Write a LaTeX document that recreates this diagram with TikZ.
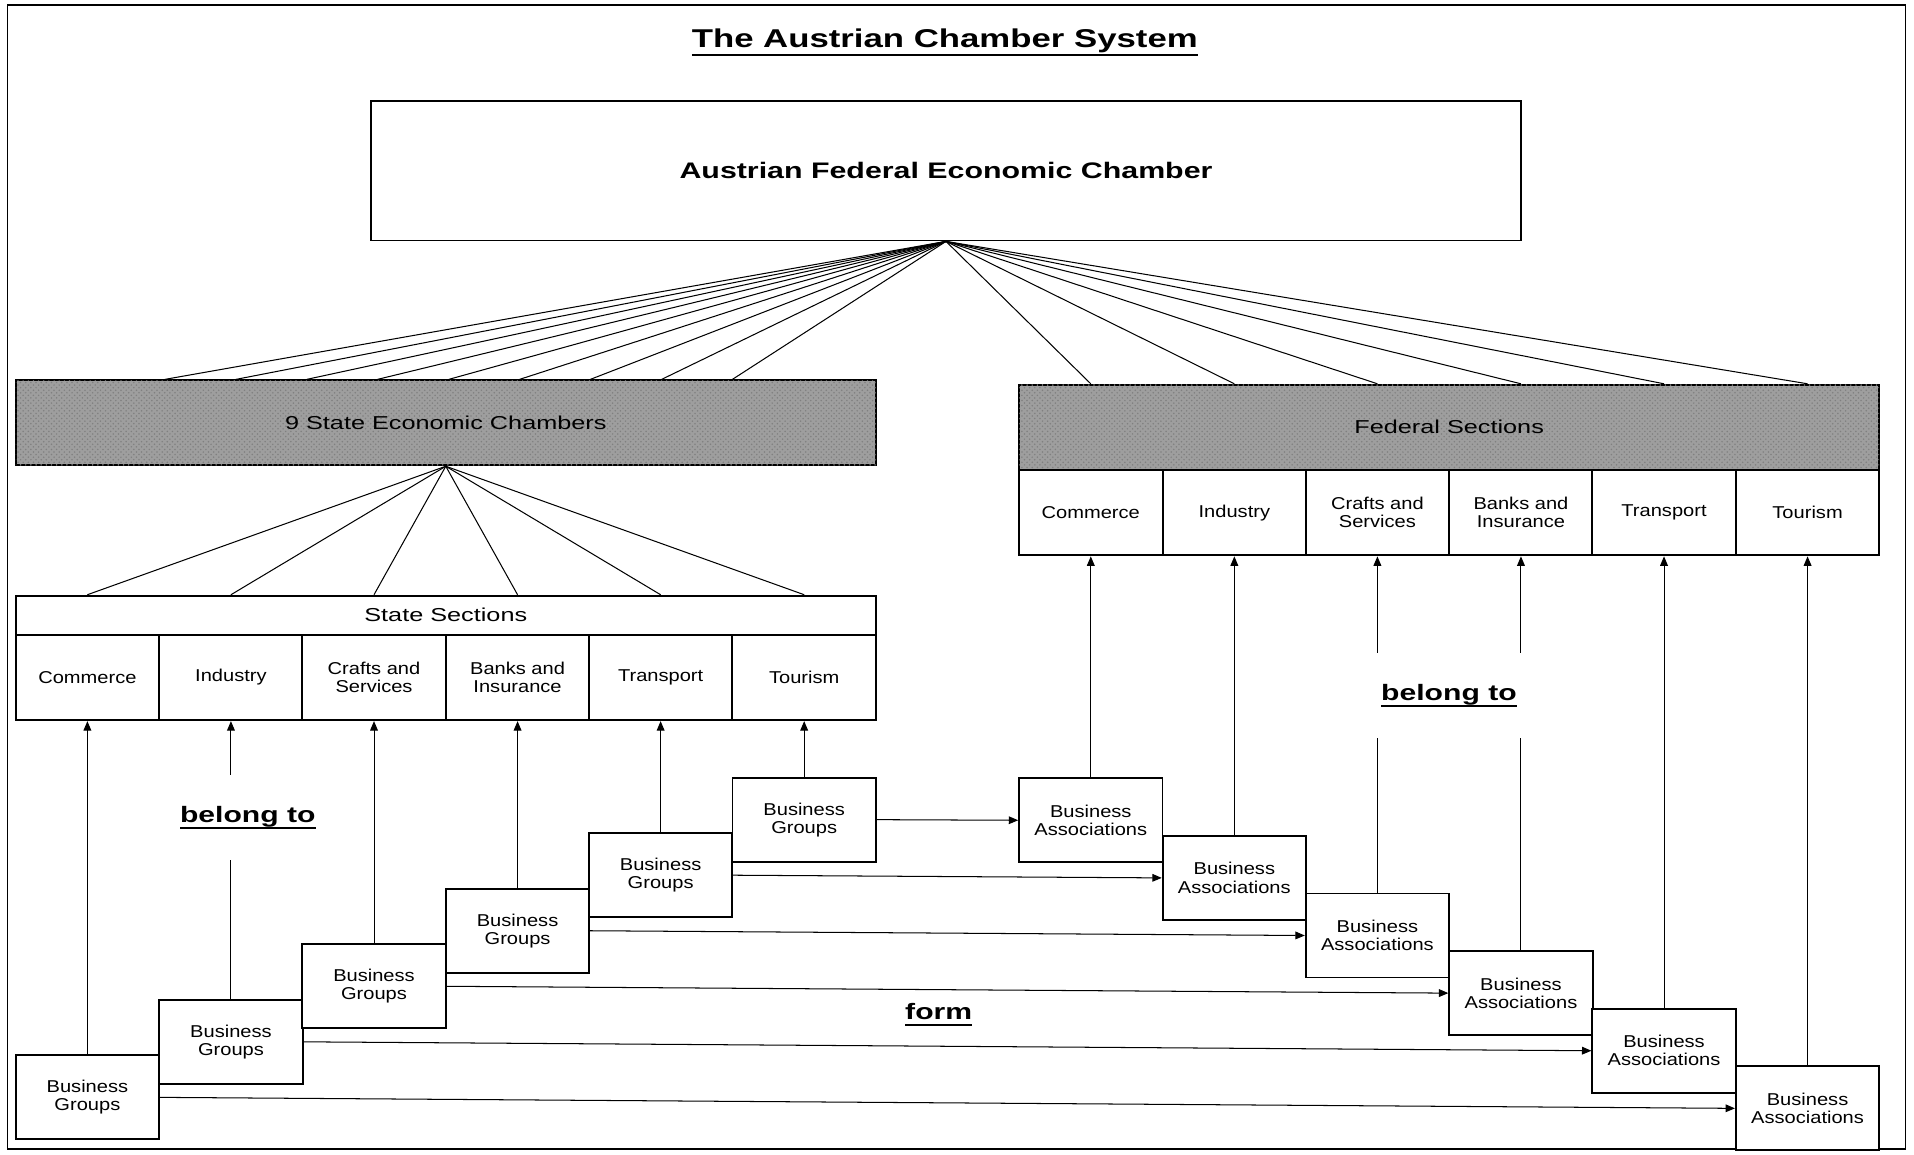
\documentclass[tikz,border=0pt]{standalone}
\usepackage{fontspec}
\setmainfont[FakeStretch=1.17]{Liberation Sans}
\newfontfamily\widefont[FakeStretch=1.35]{Liberation Sans}
\usetikzlibrary{arrows.meta, positioning, patterns}
\definecolor{scangrey}{RGB}{158, 158, 158}
\newsavebox{\ulbox}
\newcommand{\ulword}[1]{\sbox{\ulbox}{#1}\rlap{\rule[-0.3em]{\wd\ulbox}{0.08em}}\usebox{\ulbox}}

\begin{document}
\begin{tikzpicture}[
  titletext/.style={font=\widefont\bfseries\fontsize{15}{18}\selectfont},
  topbox/.style={draw, line width=1.1pt, minimum width=23.55cm, minimum height=2.85cm, font=\widefont\bfseries\fontsize{13.1}{16}\selectfont},
  greybox/.style={draw, line width=1.1pt, fill=scangrey, postaction={pattern=crosshatch dots, pattern color=black!50}, minimum width=17.61cm, minimum height=1.74cm, font=\widefont\fontsize{10.9}{13}\selectfont},
  barbox/.style={draw, line width=1.1pt, minimum width=17.61cm, minimum height=0.8cm, font=\widefont\fontsize{10.9}{13}\selectfont},
  secbox/.style={draw, line width=1.1pt, fill=white, minimum width=2.935cm, minimum height=1.75cm, align=center, inner sep=2pt, font=\fontsize{10}{10.6}\selectfont},
  bizbox/.style={secbox, minimum height=1.72cm},
  link/.style={line width=0.6pt},
  uparrow/.style={line width=0.6pt, -{Triangle[length=5.5pt, width=4.5pt]}},
  ulabel/.style={fill=white, minimum width=3.2cm, minimum height=1.74cm, font=\widefont\bfseries\fontsize{13}{16}\selectfont}
]
  \useasboundingbox (0, 0) rectangle (39.2, 23.65);
  \draw[line width=0.8pt] (0.15, 0.12) rectangle (39.03, 23.55);

  \node[titletext] (title) at (19.35, 22.78) {\ulword{The Austrian Chamber System}};
  \node[topbox] (fec) at (19.375, 20.15) {Austrian Federal Economic Chamber};

  \node[greybox] (stc) at (9.13, 14.99) {9 State Economic Chambers};
  \node[greybox] (fsc) at (29.68, 14.9) {Federal Sections};
  \node[barbox] (ssbar) at (9.13, 11.05) {State Sections};

  \node[secbox] (ss1) at (1.79, 9.775) {Commerce};
  \node[secbox] (ss2) at (4.73, 9.775) {Industry};
  \node[secbox] (ss3) at (7.66, 9.775) {Crafts and\\Services};
  \node[secbox] (ss4) at (10.60, 9.775) {Banks and\\Insurance};
  \node[secbox] (ss5) at (13.53, 9.775) {Transport};
  \node[secbox] (ss6) at (16.47, 9.775) {Tourism};

  \node[secbox] (fs1) at (22.34, 13.15) {Commerce};
  \node[secbox] (fs2) at (25.28, 13.15) {Industry};
  \node[secbox] (fs3) at (28.21, 13.15) {Crafts and\\Services};
  \node[secbox] (fs4) at (31.15, 13.15) {Banks and\\Insurance};
  \node[secbox] (fs5) at (34.08, 13.15) {Transport};
  \node[secbox] (fs6) at (37.02, 13.15) {Tourism};

  \node[bizbox] (bg1) at (1.79, 1.175) {Business\\Groups};
  \node[bizbox] (bg2) at (4.73, 2.3125) {Business\\Groups};
  \node[bizbox] (bg3) at (7.66, 3.45) {Business\\Groups};
  \node[bizbox] (bg4) at (10.60, 4.5875) {Business\\Groups};
  \node[bizbox] (bg5) at (13.53, 5.725) {Business\\Groups};
  \node[bizbox] (bg6) at (16.47, 6.8625) {Business\\Groups};

  \node[bizbox] (ba1) at (22.34, 6.85) {Business\\Associations};
  \node[bizbox] (ba2) at (25.28, 5.67) {Business\\Associations};
  \node[bizbox] (ba3) at (28.21, 4.49) {Business\\Associations};
  \node[bizbox] (ba4) at (31.15, 3.31) {Business\\Associations};
  \node[bizbox] (ba5) at (34.08, 2.13) {Business\\Associations};
  \node[bizbox] (ba6) at (37.02, 0.95) {Business\\Associations};

  \foreach \x in {3.375, 4.83, 6.28, 7.73, 9.19, 10.64, 12.09, 13.55, 15.0}
    \draw[link] (fec.south) -- (\x, 0 |- stc.north);
  \foreach \n in {1,...,6} {
    \draw[link] (fec.south) -- (fs\n |- fsc.north);
    \draw[link] (stc.south) -- (ss\n |- ssbar.north);
    \draw[uparrow] (bg\n.north) -- (ss\n.south);
    \draw[uparrow] (ba\n.north) -- (fs\n.south);
  }
  \foreach \a/\b in {6/1, 5/2, 4/3, 3/4, 2/5, 1/6}
    \draw[uparrow] (bg\a.east) -- (ba\b.west);

  \node[ulabel] (belongleft) at (5.075, 6.9) {\ulword{belong to}};
  \node[ulabel] (belongright) at (29.675, 9.4) {\ulword{belong to}};
  \node[ulabel, fill=none, minimum height=0pt] (form) at (19.225, 2.875) {\ulword{form}};
\end{tikzpicture}
\end{document}
